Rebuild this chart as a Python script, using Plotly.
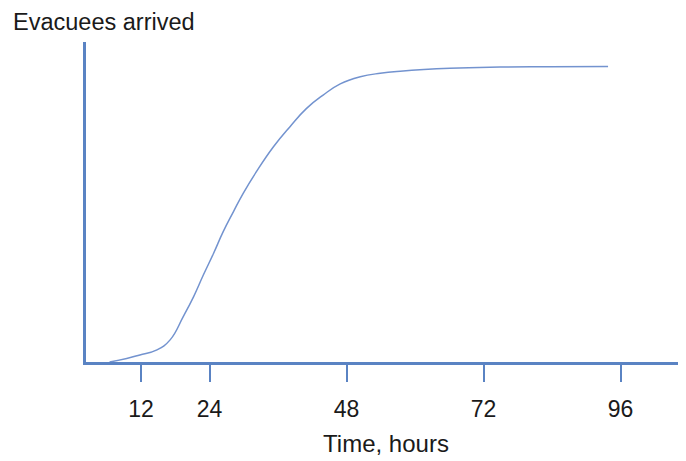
import plotly.graph_objects as go

# Data (hours, arrived evacuees in % of final total)
hours = [6.5, 9.5, 11.8, 14.8, 17.1, 19.4, 21.2, 22.9, 24.7, 26.4, 28.2, 29.9,
         32.3, 35.2, 38.1, 41.0, 43.9, 46.9, 50.4, 53.9, 57.4, 66.1, 74.9, 83.6, 93.8]
arrived = [0.0, 1.2, 2.4, 4.1, 7.5, 15.4, 22.1, 29.4, 36.8, 44.2, 51.0, 57.2,
           64.8, 73.0, 79.8, 86.0, 90.5, 94.3, 96.7, 97.9, 98.6, 99.6, 100.0, 100.1, 100.2]
tick_vals = [12, 24, 48, 72, 96]
tick_text = ["12", "24", "48", "72", "96"]

blue = "#5a83c3"
font = "Liberation Sans, Arial, sans-serif"
txt = "#1a1a1a"

fig = go.Figure()
fig.add_trace(go.Scatter(x=hours, y=arrived, mode="lines",
                         line=dict(color="#7393cf", width=1.5, shape="spline", smoothing=1.3),
                         hoverinfo="skip", showlegend=False))

fig.update_layout(
    width=678, height=453,
    margin=dict(l=78, r=0, t=34, b=99),
    paper_bgcolor="white", plot_bgcolor="white",
    font=dict(family=font, size=23, color=txt),
    xaxis=dict(range=[2.37, 107.45], showgrid=False, zeroline=False,
               showline=True, linecolor=blue, linewidth=2.5,
               ticks="outside", ticklen=17, tickwidth=2, tickcolor=blue,
               tickvals=tick_vals, ticktext=tick_text,
               ticklabelstandoff=8,
               tickfont=dict(family=font, size=23, color=txt),
               title=dict(text="Time, hours", standoff=14,
                          font=dict(family=font, size=24, color=txt))),
    yaxis=dict(range=[0, 108.5], showgrid=False, zeroline=False,
               showline=True, linecolor=blue, linewidth=2.5,
               showticklabels=False, ticks=""),
    annotations=[dict(text="Evacuees arrived", xref="paper", yref="paper",
                      x=(4 - 78) / 600, y=(354 - 14) / 320,
                      xanchor="left", yanchor="middle", showarrow=False,
                      borderpad=0,
                      font=dict(family=font, size=23.5, color=txt))],
)

fig.write_html("out.html")
